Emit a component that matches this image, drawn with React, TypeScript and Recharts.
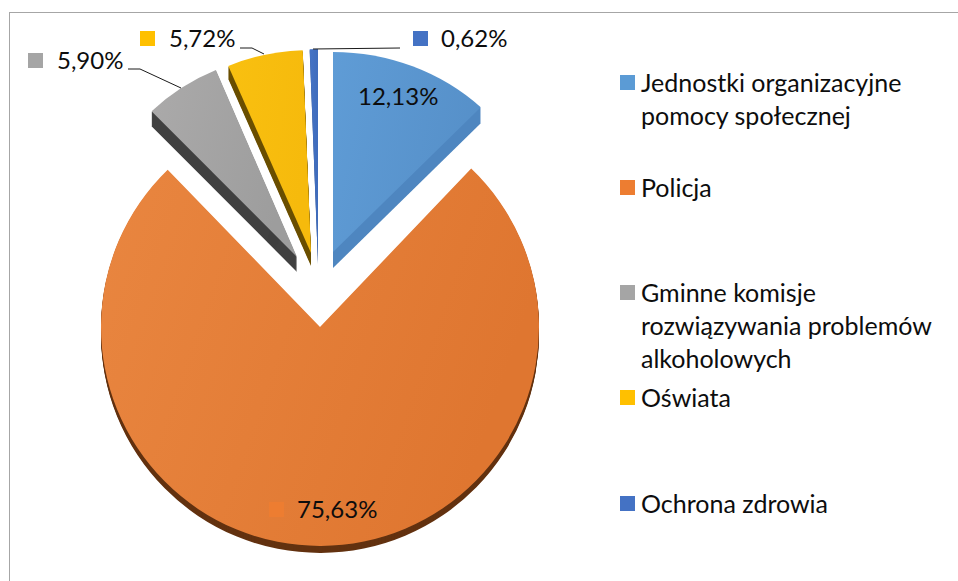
import React from 'react';
import { PieChart, Pie, Legend, Sector } from 'recharts';

const categories = [
    'Jednostki organizacyjne pomocy społecznej',
    'Policja',
    'Gminne komisje rozwiązywania problemów alkoholowych',
    'Oświata',
    'Ochrona zdrowia',
];
const shares = [12.13, 75.63, 5.9, 5.72, 0.62];
const keyColors = ['#5b9bd5', '#ed7d31', '#a5a5a5', '#ffc000', '#4472c4'];

const data = categories.map((name, i) => ({ name, value: shares[i], fill: keyColors[i] }));

/* ─── Slice look: explode shift, perspective radius/stretch, side depth ─────── */
const topLight = ['#5f9cd6', '#e98640', '#abaaaa', '#f9c010', '#4674c6'];
const topDark = ['#5690c9', '#df7630', '#9d9d9d', '#f6ba0c', '#3f6cbc'];
const sideColors = ['#4e86c0', '#633210', '#404040', '#6b5000', '#2d4d86'];
const explode = [[13, -75], [0, 0], [-23, -70], [-9, -74], [-2, -64]];
const radii = [200, 219, 203, 203, 214];
const stretchX = [1.07, 1, 1.03, 1.05, 1];
const depths = [16, 7, 15, 13, 1];

/* ─── Data label placement: key square, text, optional leader ───────────────── */
const labelBoxes = [
    { keyX: null, textX: 358, y: 97, leader: null },
    { keyX: 269, textX: 297, y: 510, leader: null },
    { keyX: 28, textX: 57, y: 61, leader: '128,69 140,69 181,88' },
    { keyX: 140, textX: 169, y: 39, leader: '240,48 252,48 264,54' },
    { keyX: 413, textX: 441, y: 39, leader: '313,49 400,48' },
];

const FONT = 'Lato, "Open Sans", sans-serif';

const formatShare = (v: number) => `${v.toFixed(2).replace('.', ',')}%`;

function SliceShape(props: any) {
    const i = categories.indexOf(props.name ?? props.payload?.name);
    const cx = props.cx + explode[i][0];
    const cy = props.cy + explode[i][1];
    const sector = {
        innerRadius: 0,
        outerRadius: radii[i],
        startAngle: props.startAngle,
        endAngle: props.endAngle,
    };
    const layers = [];
    for (let d = depths[i]; d > 0; d--) {
        layers.push(<Sector key={d} {...sector} cx={cx} cy={cy + d} fill={sideColors[i]} stroke="none" />);
    }
    return (
        <g transform={`translate(${cx} 0) scale(${stretchX[i]} 1) translate(${-cx} 0)`}>
            {layers}
            <Sector {...sector} cx={cx} cy={cy} fill={`url(#slice${i})`} stroke="none" />
        </g>
    );
}

function DataLabel(props: any) {
    const i = props.index;
    const box = labelBoxes[i];
    return (
        <g>
            {box.leader && <polyline points={box.leader} fill="none" stroke="#1a1a1a" strokeWidth={1} />}
            {box.keyX !== null && <rect x={box.keyX} y={box.y - 8} width={15} height={15} fill={keyColors[i]} />}
            <text x={box.textX} y={box.y} dy="0.35em" fontFamily={FONT} fontSize={24} fill="#0d0d0d" textAnchor="start">
                {formatShare(shares[i])}
            </text>
        </g>
    );
}

function SideLegend(props: any) {
    const tops = [66, 171, 276, 381, 487];
    return (
        <div style={{ position: 'relative', width: 958, height: 581, fontFamily: FONT, fontSize: 25, lineHeight: '33px', color: '#0d0d0d' }}>
            {(props.payload ?? []).map((entry: any, i: number) => (
                <div key={entry.value} style={{ position: 'absolute', left: 620, top: tops[i], display: 'flex' }}>
                    <div style={{ width: 15, height: 15, marginTop: 9, marginRight: 6, background: keyColors[i], flex: 'none' }} />
                    <div style={{ width: 310 }}>{entry.value}</div>
                </div>
            ))}
        </div>
    );
}

export default function App() {
    return (
        <div style={{ position: 'absolute', left: 0, top: 0, width: 958, height: 581, background: '#fff', overflow: 'hidden' }}>
            <div style={{ position: 'absolute', left: 9, top: 12, width: 949, height: 569, borderLeft: '1px solid #a6a6a6', borderTop: '1px solid #a6a6a6' }} />
            <div style={{ position: 'absolute', left: 0, top: 0 }}>
                <PieChart width={958} height={581} margin={{ top: 0, right: 0, bottom: 0, left: 0 }}>
                    <defs>
                        {topLight.map((c, i) => (
                            <linearGradient key={c} id={`slice${i}`} x1="0" y1="0" x2="1" y2="0.3">
                                <stop offset="0%" stopColor={c} />
                                <stop offset="100%" stopColor={topDark[i]} />
                            </linearGradient>
                        ))}
                    </defs>
                    <Pie
                        data={data}
                        dataKey="value"
                        nameKey="name"
                        cx={320}
                        cy={327}
                        innerRadius={0}
                        outerRadius={219}
                        startAngle={90}
                        endAngle={-270}
                        paddingAngle={0}
                        stroke="none"
                        shape={SliceShape}
                        label={DataLabel}
                        labelLine={false}
                        isAnimationActive={false}
                    />
                    <Legend
                        content={SideLegend}
                        itemSorter={null}
                        wrapperStyle={{ position: 'absolute', left: 0, top: 0, width: 958, height: 581 }}
                    />
                </PieChart>
            </div>
        </div>
    );
}
